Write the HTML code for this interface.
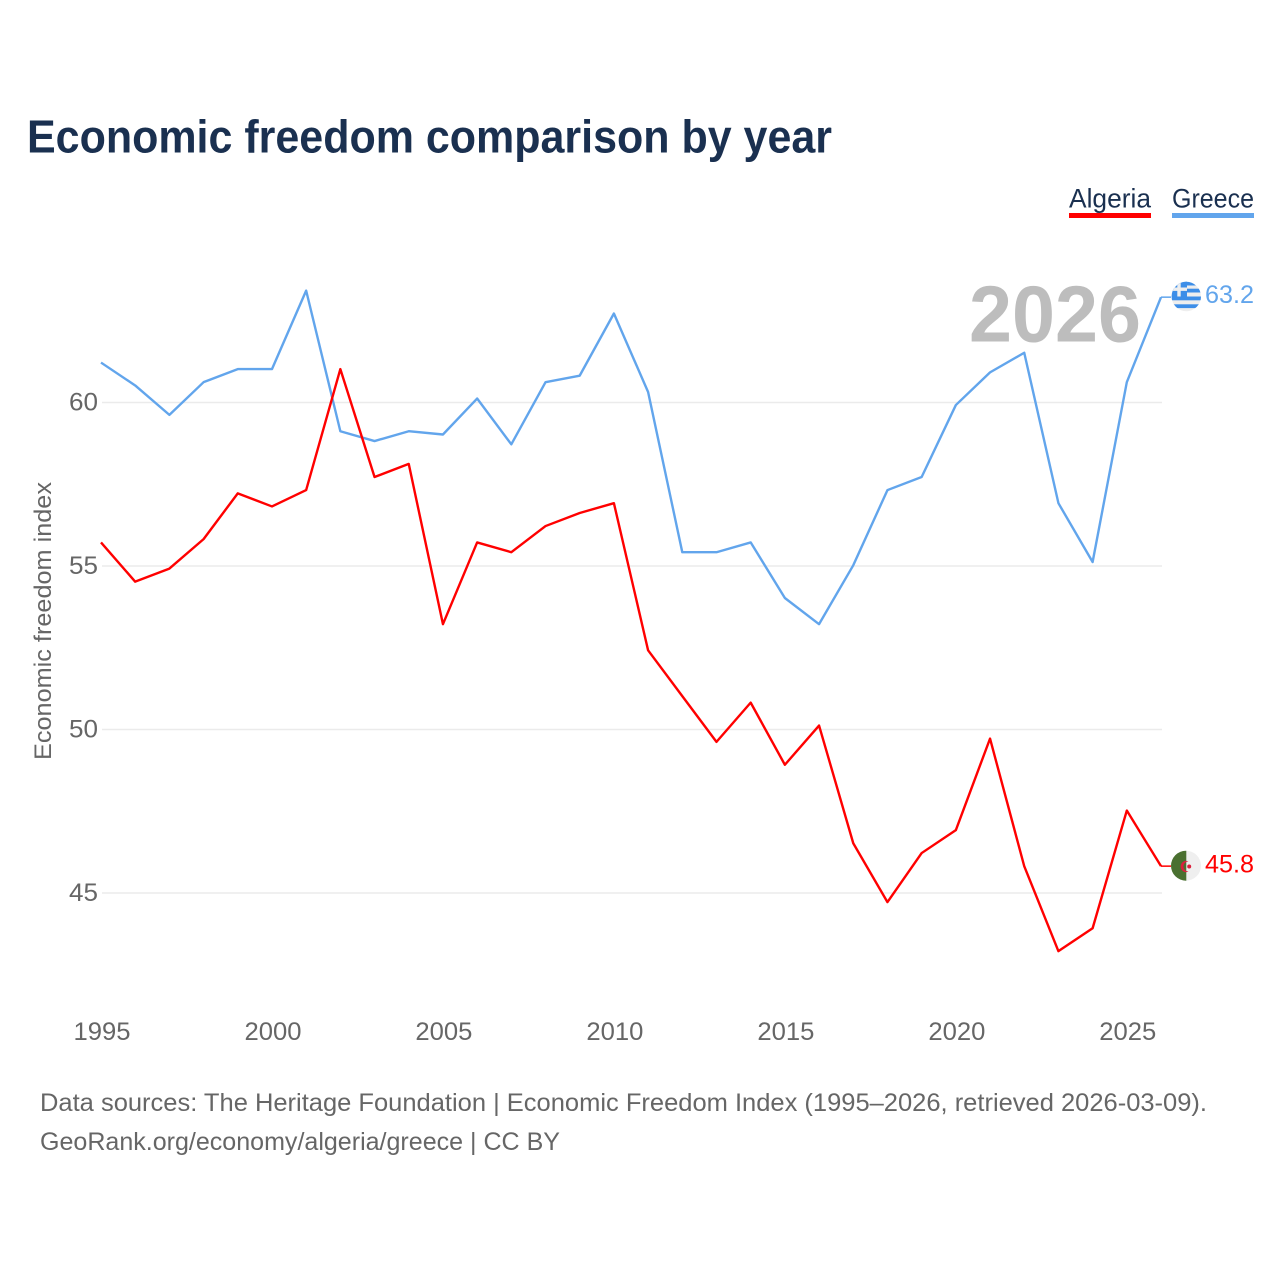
<!DOCTYPE html>
<html lang="en">
<head>
<meta charset="utf-8">
<title>Economic freedom comparison by year</title>
<style>
html,body{margin:0;padding:0;background:#fff;width:1280px;height:1280px;overflow:hidden}
svg{display:block}
text{font-family:"Liberation Sans",sans-serif}
</style>
</head>
<body>
<svg id="chart" xmlns="http://www.w3.org/2000/svg" width="1280" height="1280" viewBox="0 0 1280 1280">
  <defs>
    <clipPath id="flag-clip-gr"><circle cx="1186.3" cy="296.5" r="14.7"/></clipPath>
    <clipPath id="flag-clip-dz"><circle cx="1186" cy="865.7" r="15"/></clipPath>
  </defs>
  <text x="27" y="152.5" font-size="46" font-weight="700" fill="#1a3050" textLength="805" lengthAdjust="spacingAndGlyphs">Economic freedom comparison by year</text>

  <g>
    <g>
      <text x="1069" y="207.5" font-size="27" fill="#1a3050" textLength="82" lengthAdjust="spacingAndGlyphs">Algeria</text>
      <rect x="1069" y="213" width="82" height="5" fill="#ff0000"/>
    </g>
    <g>
      <text x="1172" y="207.5" font-size="27" fill="#1a3050" textLength="82" lengthAdjust="spacingAndGlyphs">Greece</text>
      <rect x="1172" y="213" width="82" height="5" fill="#62a5ec"/>
    </g>
  </g>

  <text x="969" y="341.5" font-size="80" font-weight="700" fill="#bdbdbd" textLength="172" lengthAdjust="spacingAndGlyphs">2026</text>

  <g id="grid"></g>
  <g id="yticks"></g>
  <g id="xticks"></g>
  <text transform="translate(51,760) rotate(-90)" x="0" y="0" font-size="24" fill="#666666" textLength="278" lengthAdjust="spacingAndGlyphs">Economic freedom index</text>
  <g id="series" transform="translate(-1,-0.7)"></g>

  <g clip-path="url(#flag-clip-gr)">
    <rect x="1171" y="281" width="31" height="31" fill="#eeeeee"/>
    <rect x="1171" y="281" width="31" height="4.5" fill="#3d8ee8"/>
    <rect x="1171" y="288.7" width="31" height="3.8" fill="#3d8ee8"/>
    <rect x="1171" y="296.5" width="31" height="3.8" fill="#3d8ee8"/>
    <rect x="1171" y="304.3" width="31" height="3.8" fill="#3d8ee8"/>
    <rect x="1171" y="281" width="16" height="15.5" fill="#3d8ee8"/>
    <rect x="1171" y="287.5" width="16" height="3.4" fill="#eeeeee"/>
    <rect x="1177.3" y="281" width="3.4" height="15.5" fill="#eeeeee"/>
  </g>
  <text x="1205" y="303" font-size="25" fill="#62a5ec" textLength="49" lengthAdjust="spacingAndGlyphs">63.2</text>

  <g clip-path="url(#flag-clip-dz)">
    <rect x="1186" y="850" width="16" height="31" fill="#efefef"/>
    <rect x="1170" y="850" width="16.3" height="31" fill="#4a7030"/>
    <path d="M1188.5 861.4 A5.6 5.6 0 1 0 1188.5 871.6 A4.4 4.4 0 1 1 1188.5 861.4 Z" fill="#dc1f3c"/>
    <circle cx="1189.2" cy="866.5" r="2" fill="#dc1f3c"/>
  </g>
  <text x="1205" y="872.5" font-size="25" fill="#ff0000" textLength="49" lengthAdjust="spacingAndGlyphs">45.8</text>

  <text x="40" y="1111" font-size="25" fill="#666666" textLength="1167" lengthAdjust="spacingAndGlyphs">Data sources: The Heritage Foundation | Economic Freedom Index (1995–2026, retrieved 2026-03-09).</text>
  <text x="40" y="1150" font-size="25" fill="#666666" textLength="520" lengthAdjust="spacingAndGlyphs">GeoRank.org/economy/algeria/greece | CC BY</text>
</svg>
<script>
const years = [1995,1996,1997,1998,1999,2000,2001,2002,2003,2004,2005,2006,2007,2008,2009,2010,2011,2012,2013,2014,2015,2016,2017,2018,2019,2020,2021,2022,2023,2024,2025,2026];
const algeria = [55.7,54.5,54.9,55.8,57.2,56.8,57.3,61.0,57.7,58.1,53.2,55.7,55.4,56.2,56.6,56.9,52.4,51.0,49.6,50.8,48.9,50.1,46.5,44.7,46.2,46.9,49.7,45.8,43.2,43.9,47.5,45.8];
const greece = [61.2,60.5,59.6,60.6,61.0,61.0,63.4,59.1,58.8,59.1,59.0,60.1,58.7,60.6,60.8,62.7,60.3,55.4,55.4,55.7,54.0,53.2,55.0,57.3,57.7,59.9,60.9,61.5,56.9,55.1,60.6,63.2];
const yTickValues = [45,50,55,60];
const xTickValues = [1995,2000,2005,2010,2015,2020,2025];

const NS = 'http://www.w3.org/2000/svg';
function xScale(year){ return 102 + (year - 1995) * (1162 - 102) / (2026 - 1995); }
function yScale(value){ return 402.5 + (60 - value) * (893 - 402.5) / (60 - 45); }
function make(tag, parent, attrs){
  const el = document.createElementNS(NS, tag);
  Object.keys(attrs).forEach(function(k){ el.setAttribute(k, attrs[k]); });
  parent.appendChild(el);
  return el;
}

const grid = document.getElementById('grid');
const yticks = document.getElementById('yticks');
const xticks = document.getElementById('xticks');
const seriesGroup = document.getElementById('series');

yTickValues.forEach(function(v){
  const line = make('line', grid, {x1:102, x2:1162, y1:yScale(v), y2:yScale(v), stroke:'#ebebeb', 'stroke-width':1.5});
  
  
  const label = make('text', yticks, {x:98, y:yScale(v) + 8, 'text-anchor':'end', 'font-size':25, fill:'#666666', textLength:29, lengthAdjust:'spacingAndGlyphs'});
  label.textContent = String(v);
  
  
});

xTickValues.forEach(function(v){
  const label = make('text', xticks, {x:xScale(v), y:1040, 'text-anchor':'middle', 'font-size':25, fill:'#666666', textLength:57, lengthAdjust:'spacingAndGlyphs'});
  label.textContent = String(v);
  
  
});

function drawSeries(values, color, name){
  const pts = values.map(function(v, i){ return xScale(years[i]).toFixed(2) + ',' + yScale(v).toFixed(2); });
  const line = make('polyline', seriesGroup, {points:pts.join(' '), fill:'none', stroke:color, 'stroke-width':2.4, 'stroke-linejoin':'round'});
  
  
  const last = values[values.length - 1];
  const conn = make('line', seriesGroup, {x1:xScale(years[years.length - 1]), x2:1172, y1:yScale(last), y2:yScale(last), stroke:color, 'stroke-width':1.5});
  
  
}
drawSeries(greece, '#62a5ec', 'greece');
drawSeries(algeria, '#ff0000', 'algeria');
</script>
</body>
</html>
